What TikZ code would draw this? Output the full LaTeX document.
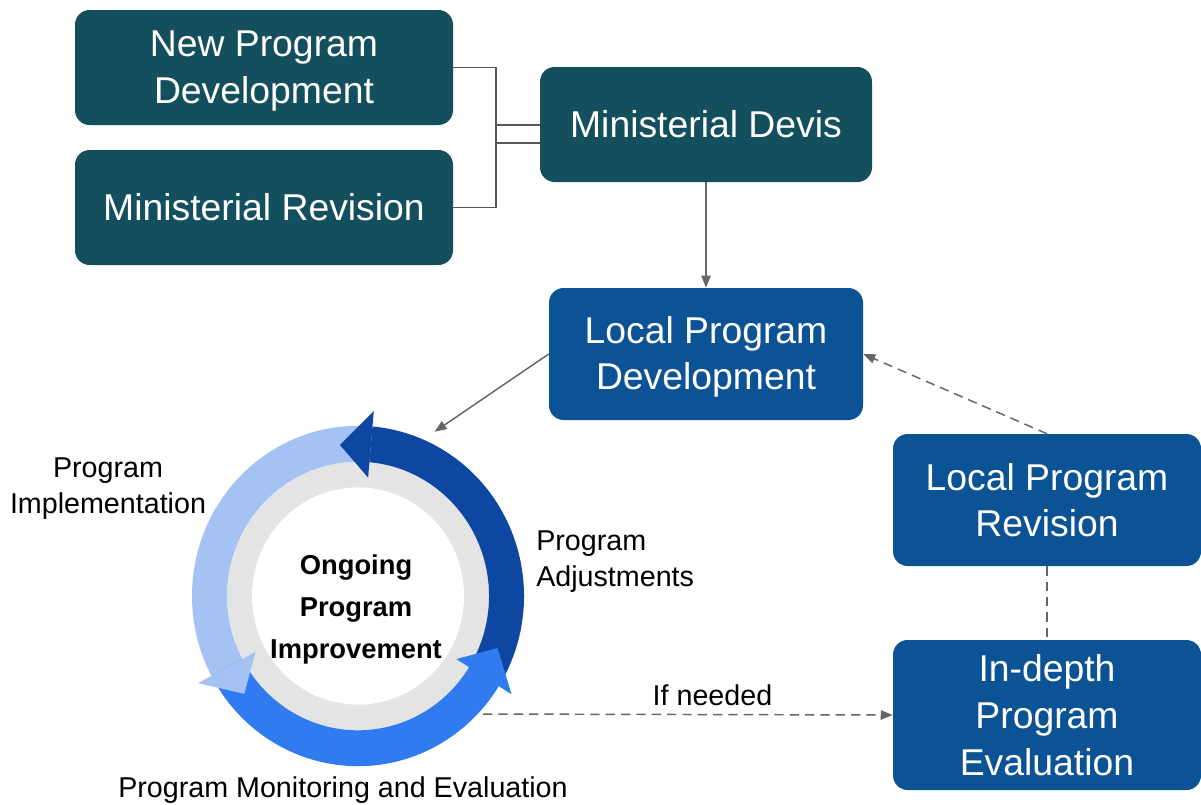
\documentclass[tikz,border=0pt]{standalone}
\usepackage{fontspec}
\setmainfont{Liberation Sans}
\usetikzlibrary{positioning}
\usetikzlibrary{arrows.meta}
\definecolor{ministeal}{HTML}{134F5C}
\definecolor{localblue}{HTML}{0B5394}
\definecolor{ringdark}{HTML}{0D47A1}
\definecolor{ringlight}{HTML}{A4C2F4}
\definecolor{ringmid}{HTML}{2F7BEF}
\definecolor{ringgrey}{HTML}{E4E4E4}
\definecolor{linkgrey}{HTML}{666666}

\tikzset{
  govbox/.style={rectangle, rounded corners=11pt, fill=ministeal, text=white, align=center, inner sep=0pt, font=\fontsize{28}{35}\selectfont},
  localbox/.style={govbox, fill=localblue},
  steplabel/.style={align=center, inner sep=0.75pt, font=\fontsize{21.5}{27}\selectfont},
  link/.style={draw=linkgrey, line width=1.1pt, -{Triangle[length=9pt,width=7pt]}},
  maybe/.style={link, dash pattern=on 7pt off 4.5pt},
}

\begin{document}
\begin{tikzpicture}[x=0.75pt,y=0.75pt,yscale=-1,xscale=1]
\useasboundingbox (0,0) rectangle (1201,804);

%Shape: Ring [id:cycle]
\begin{scope}[shift={(358,596)}, yscale=-1.025]
  \fill[ringgrey] (0,0) circle[radius=131];
  \fill[black!10] (0,0) circle[radius=109];
  \fill[white] (0,0) circle[radius=106];
  % arrow bodies
  \foreach \col/\a/\b in {ringlight/85/208, ringmid/208/328, ringdark/328/445}
    \fill[\col] (\a:166) arc[start angle=\a, end angle=\b, radius=166] -- (\b:131) arc[start angle=\b, end angle=\a, radius=131] -- cycle;
  % arrow heads
  \foreach \col/\b in {ringlight/208, ringmid/328, ringdark/85}
    \fill[\col] (\b:181) -- ({\b+12}:148.5) -- (\b:116) -- cycle;
\end{scope}
\node[circle, minimum size=271.5pt, inner sep=0pt] (ring) at (358,596) {};

% Boxes
\node[govbox, minimum width=283.5pt, minimum height=86.25pt] (npd) at (264,67.5) {\strut New Program\\Development};
\node[govbox, minimum width=283.5pt, minimum height=86.25pt] (mr) at (264,207.5) {Ministerial Revision};
\node[govbox, minimum width=249pt, minimum height=86.25pt] (md) at (706,124.5) {Ministerial Devis};
\node[localbox, minimum width=235.5pt, minimum height=99pt] (lpd) at (706,354) {\strut Local Program\\Development};
\node[localbox, minimum width=231pt, minimum height=99pt] (lpr) at (1047,500) {Local Program\\Revision};
\node[localbox, minimum width=231pt, minimum height=112.5pt] (ipe) at (1047,715) {In-depth\\Program\\Evaluation};

% Text Node
\node[font=\bfseries\fontsize{20.5}{31.5}\selectfont, align=center, inner sep=0.75pt] (hub) at (356,609) {Ongoing\\Program\\Improvement};
% Text Node
\node[steplabel] (impl) at (108,489) {Program\\Implementation};
% Text Node
\node[steplabel, anchor=west, align=left] (adj) at (535,562) {Program\\Adjustments};
% Text Node
\node[steplabel] (mon) at (343,790) {Program Monitoring and Evaluation};

% Connectors
\coordinate (fork) at (496,125);
\coordinate (fork2) at (496,143);
\coordinate (loopout) at (483,714);
\draw[linkgrey!85!black, line width=1pt] (npd.east) -| (fork) |- (mr.east);
\draw[linkgrey!85!black, line width=1pt] (fork) -- (fork -| md.west);
\draw[linkgrey!85!black, line width=1pt] (fork2) -- (fork2 -| md.west);
\draw[link] (md.south) -- (lpd.north);
\draw[link] (lpd.west) -- (ring.65);
\draw[maybe] (lpr.north) -- (lpd.east);
\draw[maybe, -] (lpr.south) -- (ipe.north);
\draw[maybe] (loopout) -- (ipe.west) node[steplabel, pos=0.56, above=5pt] (ifneeded) {If needed};

\end{tikzpicture}
\end{document}
